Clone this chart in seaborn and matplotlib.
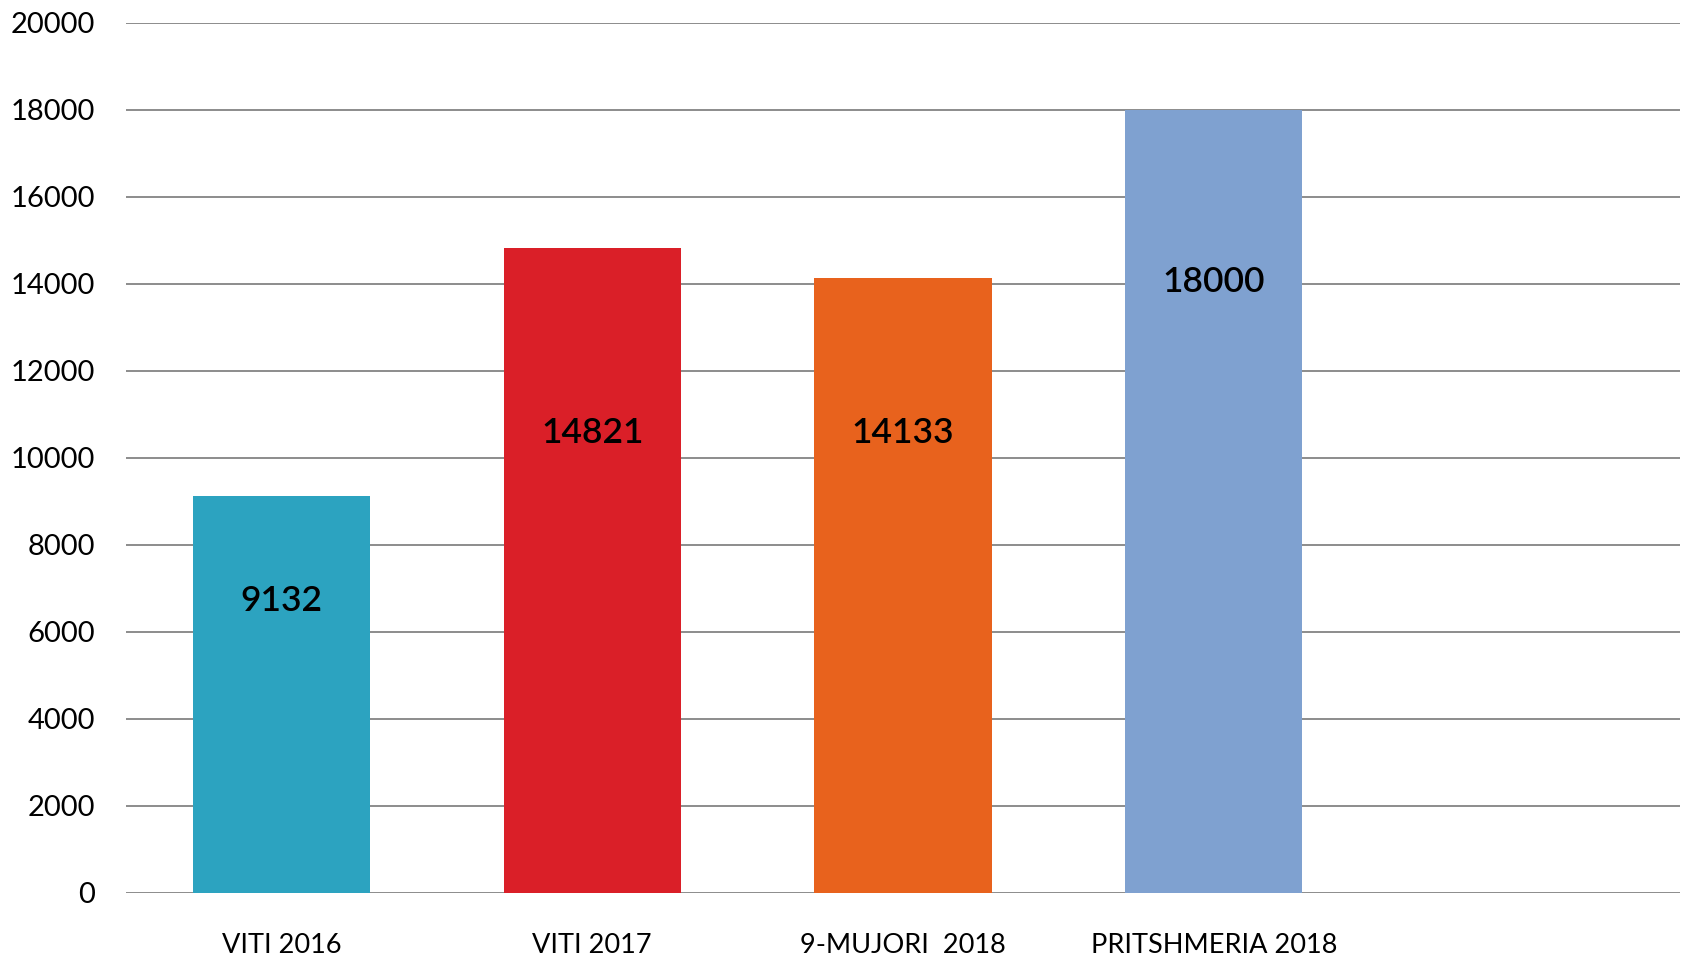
import matplotlib
matplotlib.use("Agg")
import matplotlib.pyplot as plt
import seaborn as sns
import pandas as pd

kategorite = ["VITI 2016", "VITI 2017", "9-MUJORI  2018", "PRITSHMERIA 2018"]
vlerat = [9132, 14821, 14133, 18000]
ngjyrat = ["#2CA3C0", "#DA1F28", "#E8621D", "#7FA1D0"]
y_ticks = [0, 2000, 4000, 6000, 8000, 10000, 12000, 14000, 16000, 18000, 20000]

df = pd.DataFrame({"kategoria": kategorite, "vlera": vlerat})

sns.set_theme(style="white")
plt.rcParams["font.family"] = ["Lato", "DejaVu Sans"]

fig = plt.figure(figsize=(16.85, 9.6), dpi=100)
ax = fig.add_axes([0.0748, 0.0698, 0.9222, 0.9066])

sns.barplot(data=df, x="kategoria", y="vlera", hue="kategoria", palette=ngjyrat,
            width=0.57, legend=False, ax=ax, saturation=1, linewidth=0)

ax.set_xlim(-0.5, 4.5)
ax.set_ylim(0, 20000)
ax.set_yticks(y_ticks)
ax.set_yticklabels([str(t) for t in y_ticks])
ax.yaxis.grid(True, color="#8c8c8c", linewidth=1.4)
ax.set_axisbelow(True)
for s in ax.spines.values():
    s.set_visible(False)
ax.tick_params(axis="y", length=0, pad=22, labelsize=21, labelcolor="black")
ax.tick_params(axis="x", length=0, pad=29, labelsize=19.5, labelcolor="black")
ax.set_xlabel("")
ax.set_ylabel("")

# etiketat brenda shtyllave (pozicion i lexuar nga figura)
pozicioni = [6700, 10580, 10580, 14050]
for i, (v, p) in enumerate(zip(vlerat, pozicioni)):
    ax.text(i, p, str(v), ha="center", va="center", fontsize=25.5,
            fontweight="semibold", color="black")

fig.savefig("out.png", dpi=100)
